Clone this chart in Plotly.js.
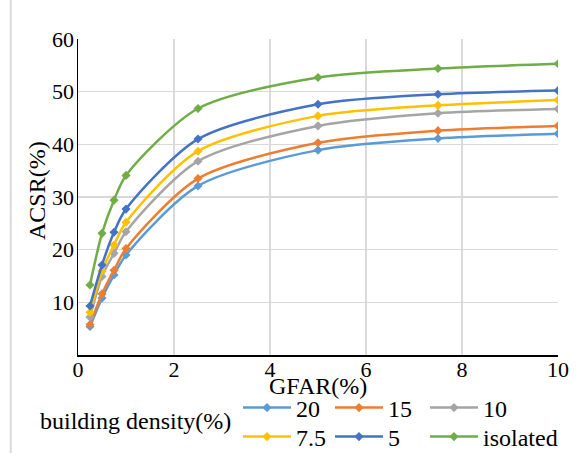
<!DOCTYPE html>
<html>
<head>
<meta charset="utf-8">
<script src="https://cdn.plot.ly/plotly-3.0.1.min.js"></script>
<style>html,body{margin:0;padding:0;background:#fff;}#chart{width:579px;height:453px;}</style>
</head>
<body>
<div id="chart"></div>
<script>
const gfar = [0.25, 0.5, 0.75, 1, 2.5, 5, 7.5, 10];
const seriesNames = ['20', '15', '10', '7.5', '5', 'isolated'];
const d20 = [5.4, 10.8, 15.2, 19.0, 32.1, 38.9, 41.1, 42.0];
const d15 = [5.8, 11.6, 16.1, 20.2, 33.5, 40.3, 42.6, 43.5];
const d10 = [7.2, 14.9, 19.3, 23.4, 36.8, 43.5, 45.9, 46.7];
const d7_5 = [8.1, 15.9, 20.9, 25.2, 38.7, 45.4, 47.4, 48.4];
const d5 = [9.3, 17.1, 23.3, 27.7, 41.0, 47.6, 49.5, 50.2];
const dIso = [13.3, 23.1, 29.4, 34.1, 46.8, 52.7, 54.4, 55.3];
const seriesValues = [d20, d15, d10, d7_5, d5, dIso];
const colors = ['#5B9BD5', '#ED7D31', '#A5A5A5', '#FFC000', '#4472C4', '#70AD47'];
const legendTitle = 'building density(%)';
const xTitle = 'GFAR(%)';
const yTitle = 'ACSR(%)';
const xTicks = [0, 2, 4, 6, 8, 10];
const yTicks = [10, 20, 30, 40, 50, 60];

const FAM = 'Liberation Serif, serif';
const F24 = {family: FAM, size: 24, color: '#000'};
const F22 = {family: FAM, size: 22, color: '#000'};
const legendIds = ['legend', 'legend2', 'legend3', 'legend4', 'legend5', 'legend6'];
const traces = seriesNames.map((n, i) => ({
  x: gfar, y: seriesValues[i], name: n, type: 'scatter', mode: 'lines+markers',
  legend: legendIds[i],
  line: {color: colors[i], width: 2.5, shape: 'spline', smoothing: 0.8},
  marker: {symbol: 'diamond', size: 7, color: colors[i]}
}));

// legend slot positions (paper fractions): 3 columns x 2 rows
const colX = [0.3333, 0.5250, 0.7229];
const rowY = [-0.1677, -0.2595];

const layout = {
  width: 579, height: 453,
  margin: {l: 78, r: 21, t: 39, b: 98, autoexpand: false},
  paper_bgcolor: '#fff', plot_bgcolor: '#fff',
  font: F24,
  showlegend: true,
  xaxis: {
    range: [0, 10], tickvals: xTicks, ticktext: xTicks.map(String),
    showgrid: true, gridcolor: '#d9d9d9', gridwidth: 1.5,
    showline: true, linecolor: '#000', linewidth: 1.5, zeroline: false,
    ticks: '', tickfont: F22, ticklabelstandoff: -6
  },
  yaxis: {
    range: [0, 60], tickvals: yTicks, ticktext: yTicks.map(String),
    showgrid: true, gridcolor: '#d9d9d9', gridwidth: 1.5,
    showline: true, linecolor: '#000', linewidth: 1.5, zeroline: false,
    ticks: '', tickfont: F22, ticklabelstandoff: -2
  },
  annotations: [
    {text: legendTitle, xref: 'paper', yref: 'paper', x: -0.0833, y: -0.209,
     xanchor: 'left', yanchor: 'middle', showarrow: false, font: F24},
    {text: xTitle, xref: 'paper', yref: 'paper', x: 0.5, y: -0.098,
     xanchor: 'center', yanchor: 'middle', showarrow: false, font: F24},
    {text: yTitle, xref: 'paper', yref: 'paper', x: -0.0854, y: 0.519, textangle: -90,
     xanchor: 'center', yanchor: 'middle', showarrow: false, font: F24}
  ],
  shapes: [{type: 'line', xref: 'paper', yref: 'paper', x0: -0.14, x1: -0.14, y0: -0.32, y1: 1.13,
    line: {color: '#d9d9d9', width: 2}}]
};
legendIds.forEach((id, i) => {
  layout[id] = {
    orientation: 'h', xanchor: 'left', yanchor: 'middle',
    x: colX[i % 3], y: rowY[Math.floor(i / 3)],
    font: F24, itemwidth: 48, bgcolor: 'rgba(0,0,0,0)', borderwidth: 0
  };
});
Plotly.newPlot('chart', traces, layout, {displayModeBar: false, staticPlot: true});
</script>
</body>
</html>
